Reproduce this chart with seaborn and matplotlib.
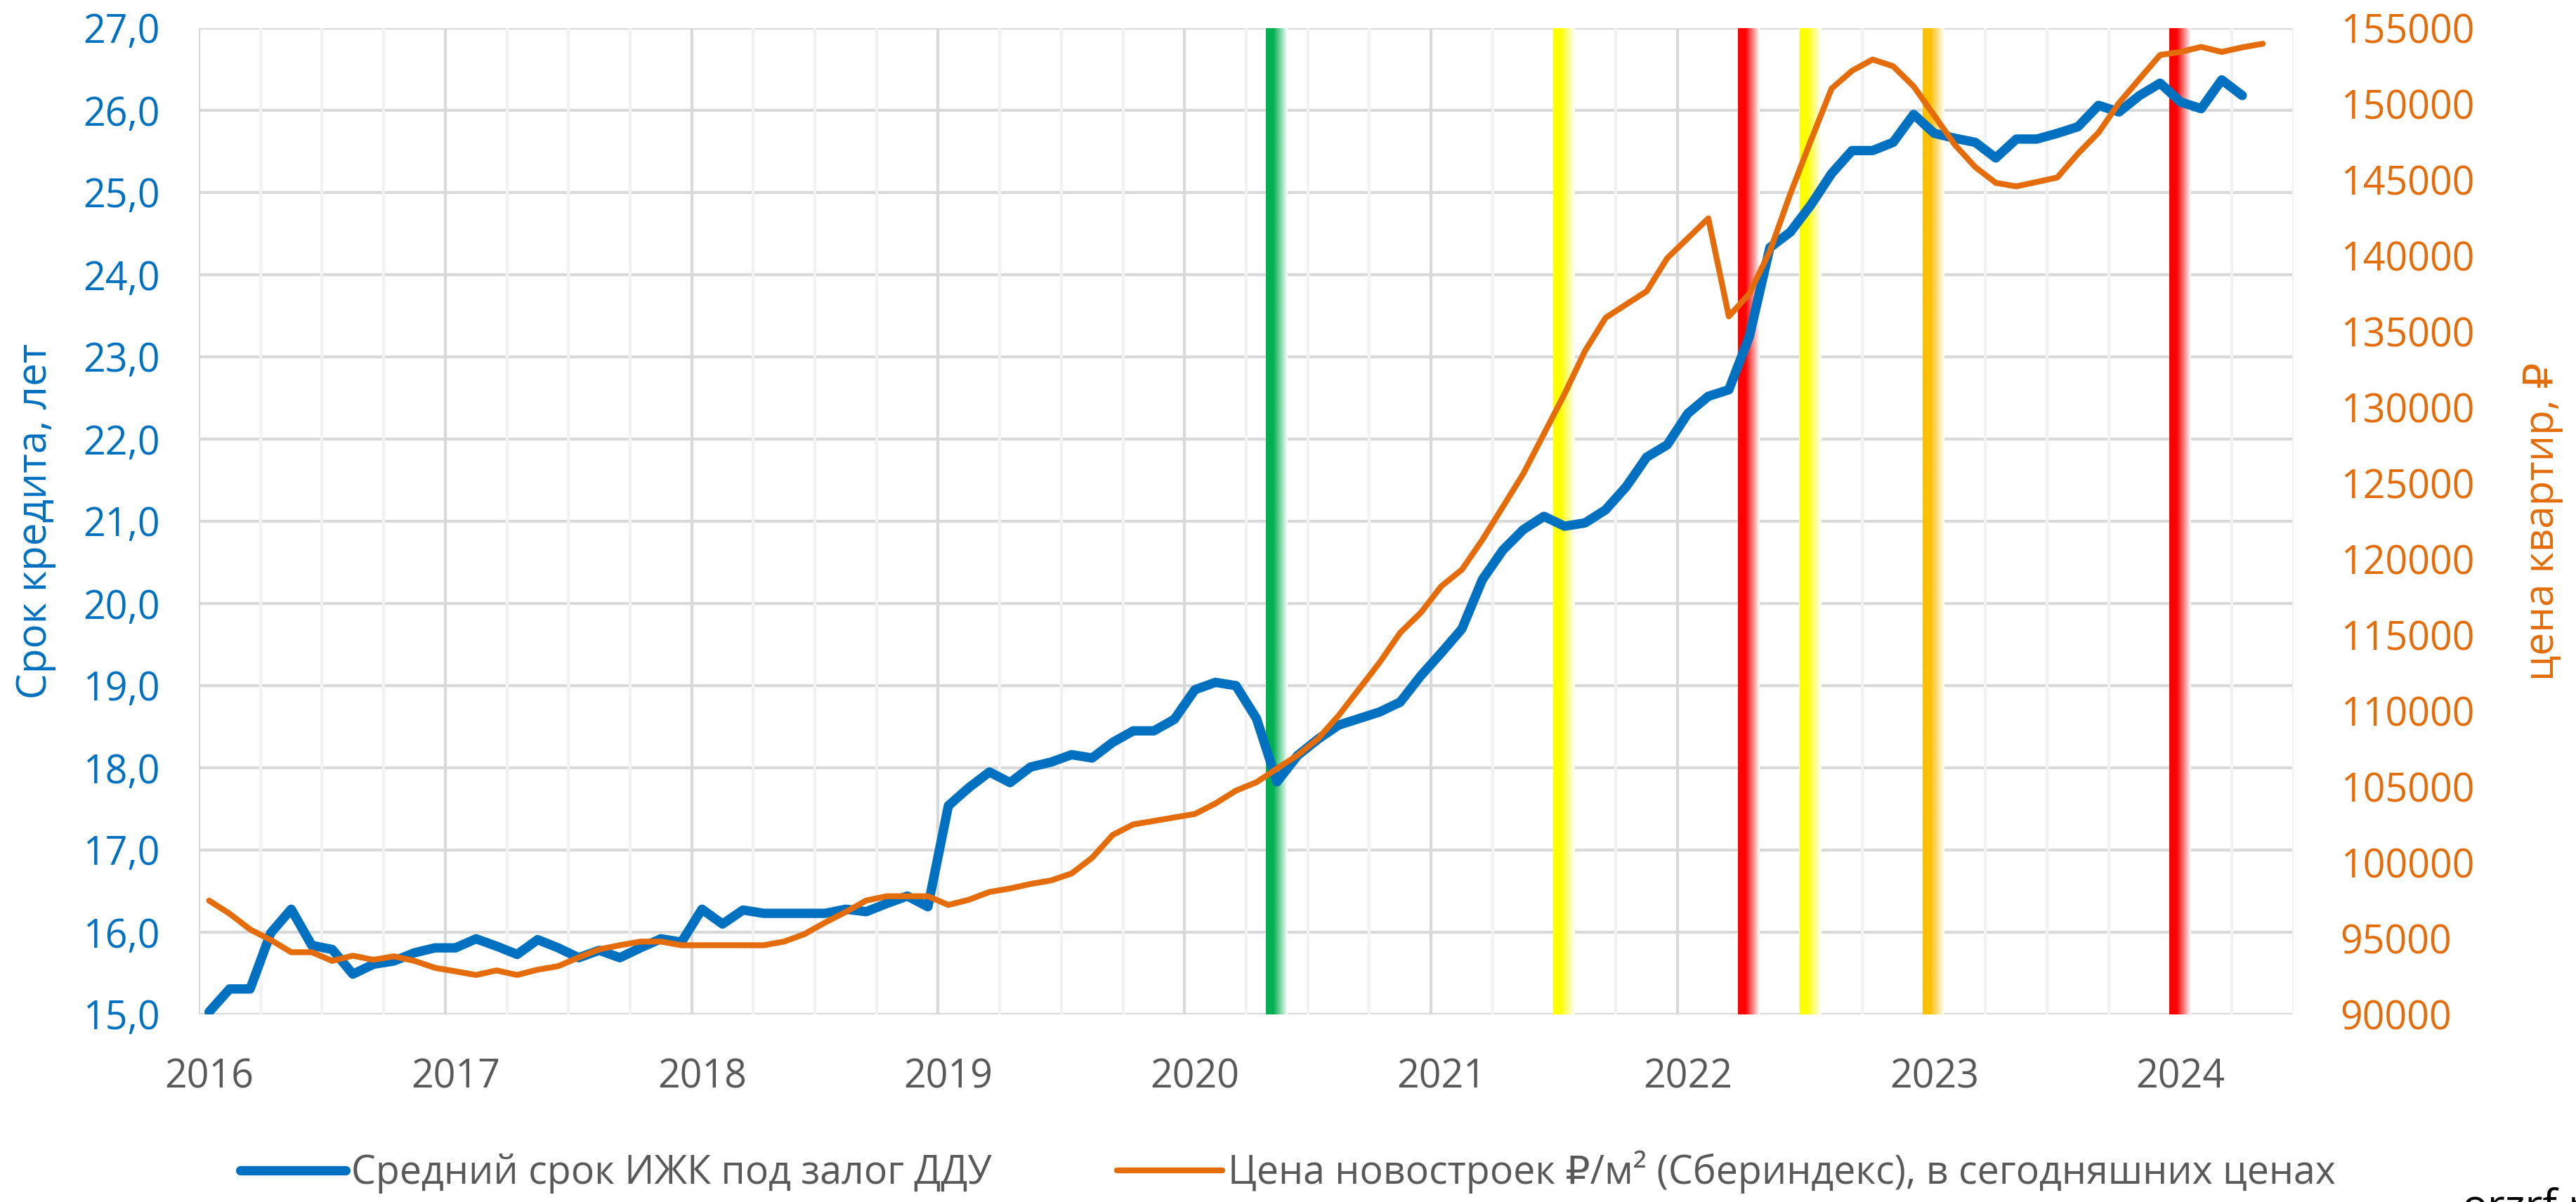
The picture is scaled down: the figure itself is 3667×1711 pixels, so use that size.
import numpy as np
import pandas as pd
import matplotlib
matplotlib.use("Agg")
import matplotlib.pyplot as plt
from matplotlib.colors import to_rgb
import seaborn as sns

sns.set_theme(style="white")
plt.rcParams['font.family'] = ['Open Sans', 'DejaVu Sans']

# ---- data (monthly, Jan 2016 ...) ----
loan_term = [
    15.03, 15.31, 15.31, 15.99, 16.28, 15.84, 15.79, 15.49, 15.61, 15.65, 15.75, 15.81,
    15.81, 15.92, 15.83, 15.73, 15.91, 15.81, 15.69, 15.78, 15.69, 15.81, 15.92, 15.88,
    16.28, 16.10, 16.27, 16.23, 16.23, 16.23, 16.23, 16.28, 16.25, 16.35, 16.44, 16.31,
    17.54, 17.76, 17.95, 17.82, 18.01, 18.07, 18.16, 18.12, 18.31, 18.45, 18.45, 18.59,
    18.95, 19.04, 19.00, 18.60, 17.83, 18.15, 18.35, 18.52, 18.60, 18.68, 18.80, 19.12,
    19.40, 19.69, 20.29, 20.65, 20.90, 21.06, 20.94, 20.98, 21.14, 21.42, 21.78, 21.93,
    22.31, 22.52, 22.60, 23.25, 24.33, 24.52, 24.85, 25.23, 25.51, 25.51, 25.61, 25.95,
    25.72, 25.66, 25.61, 25.42, 25.65, 25.65, 25.72, 25.80, 26.06, 25.98, 26.18, 26.33,
    26.10, 26.02, 26.37, 26.18,
]
price_sqm = [
    97500, 96640, 95600, 94910, 94100, 94100, 93530, 93870, 93600, 93830, 93530, 93070,
    92840, 92600, 92900, 92600, 92950, 93180, 93760, 94290, 94560, 94800, 94800, 94560,
    94560, 94560, 94560, 94560, 94800, 95300, 96060, 96750, 97510, 97790, 97790, 97790,
    97215, 97560, 98070, 98300, 98600, 98830, 99290, 100330, 101830, 102520, 102750, 102980,
    103210, 103900, 104750, 105300, 106200, 107080, 108170, 109700, 111450, 113200, 115160, 116470,
    118220, 119310, 121280, 123460, 125650, 128270, 130890, 133730, 135910, 136790, 137660, 139840,
    141150, 142460, 136000, 137500, 140300, 144100, 147610, 151010, 152190, 152930, 152490, 151160,
    149240, 147320, 145840, 144800, 144570, 144860, 145160, 146730, 148110, 150070, 151660, 153230,
    153430, 153760, 153430, 153730, 153970,
]
n_months = 102
years = ['2016', '2017', '2018', '2019', '2020', '2021', '2022', '2023', '2024']

# event markers: month index and colour
event_months = [52, 66, 75, 78, 84, 96]
event_colors = ['#00B050', '#FFFF00', '#FF0000', '#FFFF00', '#FFC000', '#FF0000']

label_blue = 'Средний срок ИЖК под залог ДДУ'
label_orange = 'Цена новостроек ₽/м² (Сбериндекс), в сегодняшних ценах'

BLUE = '#0070C0'
ORANGE = '#E46C0A'
GREY = '#595959'

Y1 = (15, 27)
Y2 = (90000, 155000)

fig = plt.figure(figsize=(3667 / 200, 1711 / 200), dpi=200)
ax = fig.add_axes([283 / 3667, 1 - 1444 / 1711, (3265 - 283) / 3667, (1444 - 40) / 1711])
ax2 = ax.twinx()

# grid
ax.set_axisbelow(True)
ax.yaxis.grid(True, color='#D9D9D9', linewidth=1.5)
ax.xaxis.grid(False)
bounds = np.arange(-0.5, n_months, 3)
minor_b = [b for b in bounds if (b + 0.5) % 12 != 0]
major_b = [b for b in bounds if (b + 0.5) % 12 == 0]
ax.vlines(minor_b + [n_months - 0.5], 0, 1, transform=ax.get_xaxis_transform(),
          color='#F2F2F2', linewidth=1.5, zorder=0.6)
ax.vlines(major_b, 0, 1, transform=ax.get_xaxis_transform(),
          color='#D9D9D9', linewidth=1.5, zorder=0.7)

# gradient bands
ramp = np.clip((np.linspace(0, 1, 200) - 0.35) / 0.65, 0, 1)
for m, c in zip(event_months, event_colors):
    rgb = np.array(to_rgb(c))
    img = rgb[None, :] * (1 - ramp[:, None]) + ramp[:, None]
    ax.imshow(img[None, :, :], extent=(m - 0.55, m + 0.5, Y1[0], Y1[1]),
              aspect='auto', interpolation='bilinear', zorder=1.5)

x1 = np.arange(len(loan_term))
x2 = np.arange(len(price_sqm))
sns.lineplot(x=x1, y=loan_term, ax=ax, color=BLUE, linewidth=4.8,
             solid_capstyle='round', solid_joinstyle='round', zorder=3)
sns.lineplot(x=x2, y=price_sqm, ax=ax2, color=ORANGE, linewidth=3.0,
             solid_capstyle='round', solid_joinstyle='round', zorder=3)

ax.set_xlim(-0.5, n_months - 0.5)
ax.set_ylim(*Y1)
ax2.set_ylim(*Y2)

ax.set_xticks(np.arange(0, n_months, 12))
ax.set_xticklabels(years)
ax.set_yticks(np.arange(15, 27.5, 1))
ax.set_yticklabels([f'{v:.1f}'.replace('.', ',') for v in np.arange(15, 27.5, 1)])
ax2.set_yticks(np.arange(90000, 155001, 5000))
ax2.set_yticklabels([str(v) for v in range(90000, 155001, 5000)])

ax.tick_params(axis='x', length=0, pad=22, labelsize=20, labelcolor=GREY)
ax.tick_params(axis='y', length=0, pad=20, labelsize=20, labelcolor=BLUE)
ax2.tick_params(axis='y', length=0, pad=24, labelsize=20, labelcolor=ORANGE)

for a in (ax, ax2):
    for s in a.spines.values():
        s.set_visible(False)
    a.set_xlabel('')

ax.set_ylabel('Срок кредита, лет', fontsize=21, color=BLUE, va='center')
ax.yaxis.set_label_coords(-0.078, 0.5)
ax2.set_ylabel('цена квартир, ₽', fontsize=21, color=ORANGE, rotation=90, va='center')
ax2.yaxis.set_label_coords(1.119, 0.5)

fig.legend(handles=[ax.lines[0], ax2.lines[0]], labels=[label_blue, label_orange],
           loc='center', bbox_to_anchor=(0.5, 0.025), ncol=2, frameon=False,
           fontsize=20, labelcolor=GREY, handlelength=2.7, handletextpad=0.15,
           columnspacing=3.2)

fig.text(3505 / 3667, 1 - 1690 / 1711, 'orzrf.ru', ha='left', va='top',
         fontsize=22, color='black')

fig.savefig('out.png', dpi=200)
